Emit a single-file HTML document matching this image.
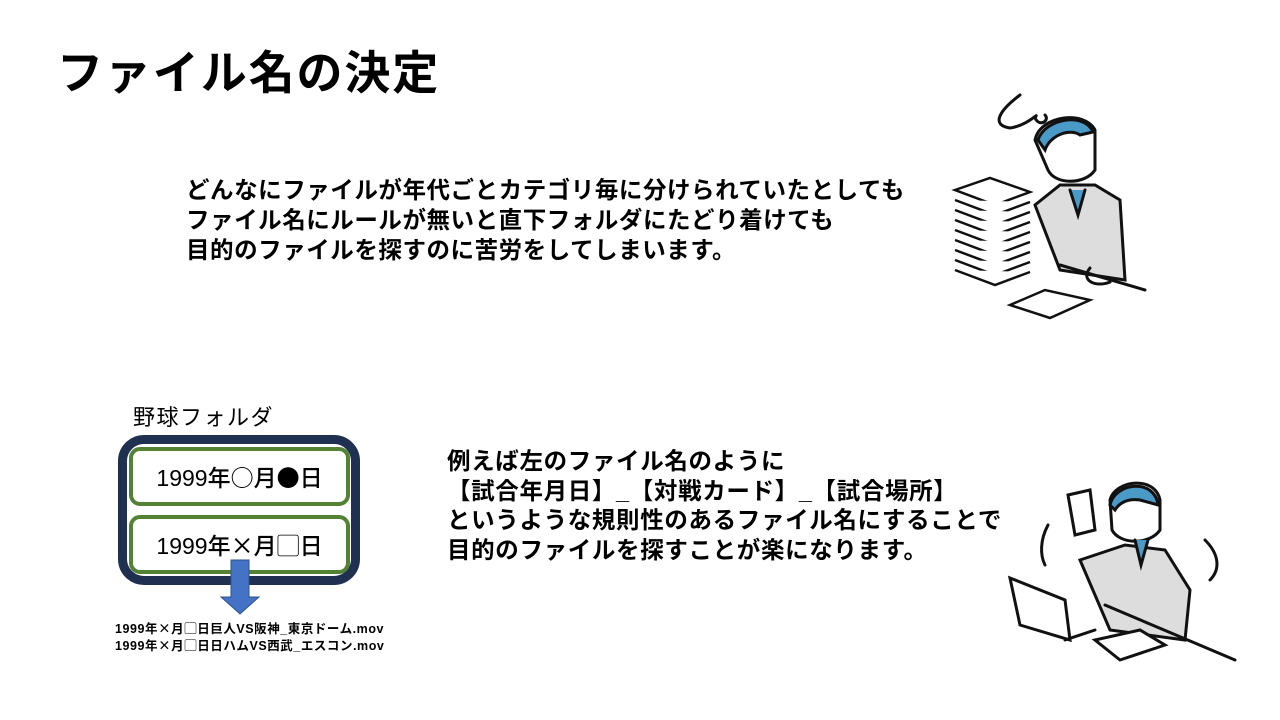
<!DOCTYPE html>
<html><head><meta charset="utf-8"><style>
html,body{margin:0;padding:0;background:#fff}
body{width:1280px;height:720px;position:relative;overflow:hidden;font-family:"Liberation Sans","Noto Sans CJK JP",sans-serif;color:#000}
.t{position:absolute;white-space:nowrap}
.j{font-family:"Noto Sans CJK JP",sans-serif}
.title{left:57px;top:37px;font-size:46px;font-weight:bold;letter-spacing:1.9px}
.p1{left:186px;top:175px;font-size:23.5px;font-weight:bold;line-height:30px;letter-spacing:0.55px}
.p2{left:447px;top:447px;font-size:23.5px;font-weight:bold;line-height:29.5px;letter-spacing:0.65px}
.lab{left:133px;top:400px;font-size:22px;letter-spacing:1.5px}
.outer{position:absolute;left:118px;top:435px;width:224px;height:132px;border:9px solid #1f3050;border-radius:26px}
.in{position:absolute;left:129px;width:213px;height:51px;border:4px solid #548235;border-radius:11px;font-size:23px;text-align:center;line-height:51px;font-weight:500}
.small{left:115px;top:620px;font-size:12.5px;font-weight:bold;line-height:16px;letter-spacing:0.55px}
</style></head><body>
<div class="t title">ファイル名の決定</div>
<div class="t p1">どんなにファイルが年代ごとカテゴリ毎に分けられていたとしても<br>ファイル名にルールが無いと直下フォルダにたどり着けても<br>目的のファイルを探すのに苦労をしてしまいます。</div>
<div class="t lab">野球フォルダ</div>
<div class="outer"></div>
<div class="in" style="top:447px">1999年<span class="j">○</span>月<span class="j">●</span>日</div>
<div class="in" style="top:515px">1999年<span class="j">×</span>月<span class="j">▢</span>日</div>
<svg style="position:absolute;left:0;top:0" width="1280" height="720">
<polygon points="231,560 249,560 249,597 259,597 240,614 221,597 231,597" fill="#4472c4" stroke="#2f528f" stroke-width="1"/>
<g stroke="#111" stroke-width="3" fill="none" stroke-linecap="round">
<path d="M1020,95 C1000,110 990,125 1010,128 C1030,125 1040,110 1035,118 C1040,128 1050,120 1045,115"/>
<path d="M1035,140 C1040,115 1085,110 1095,130 L1095,170 C1085,185 1055,185 1048,170 Z" fill="#fff"/>
<path d="M1038,140 C1045,118 1085,112 1093,132 L1080,135 C1070,128 1050,135 1045,150 Z" fill="#4a9ac8"/>
<path d="M1035,205 L1060,185 L1095,185 L1120,200 L1125,280 L1060,270 Z" fill="#ddd"/>
<path d="M1070,190 L1078,215 L1085,190" fill="#4a9ac8"/>
<path d="M1060,265 L1145,290"/>
<path d="M1090,268 C1080,280 1095,288 1110,282"/>
</g>
<g stroke="#111" stroke-width="2.5" fill="#fff">
<path d="M955,190 L990,178 L1030,192 L995,205 Z"/>
<path d="M955,200 L995,215 L1030,202"/><path d="M955,210 L995,225 L1030,212"/>
<path d="M955,220 L995,235 L1030,222"/><path d="M955,230 L995,245 L1030,232"/>
<path d="M955,240 L995,255 L1030,242"/><path d="M955,250 L995,265 L1030,252"/>
<path d="M955,260 L995,275 L1030,262"/><path d="M955,270 L995,285 L1030,272"/>
<path d="M1010,305 L1045,290 L1090,300 L1050,318 Z"/>
</g>
<g stroke="#111" stroke-width="3" fill="none" stroke-linecap="round">
<path d="M1110,500 C1115,480 1155,475 1160,500 L1160,530 C1150,545 1120,545 1112,530 Z" fill="#fff"/>
<path d="M1110,505 C1115,482 1155,478 1158,505 L1140,500 C1125,498 1118,505 1115,510 Z" fill="#4a9ac8"/>
<path d="M1080,560 L1125,545 L1165,550 L1190,590 L1185,640 L1110,630 Z" fill="#ddd"/>
<path d="M1068,495 L1090,490 L1095,530 L1075,535 Z" fill="#fff"/>
<path d="M1010,578 L1065,600 L1070,640 L1020,625 Z" fill="#fff"/>
<path d="M1065,640 L1095,630"/>
<path d="M1105,605 L1235,660"/>
<path d="M1095,640 L1140,630 L1165,645 L1120,660 Z" fill="#fff"/>
<path d="M1048,525 C1040,540 1040,555 1045,565"/>
<path d="M1205,540 C1220,555 1220,570 1210,580"/>
<path d="M1135,540 L1141,565 L1148,540" fill="#4a9ac8"/>
</g>
</svg>
<div class="t small">1999年<span class="j">×</span>月<span class="j">▢</span>日巨人VS阪神_東京ドーム.mov<br>1999年<span class="j">×</span>月<span class="j">▢</span>日日ハムVS西武_エスコン.mov</div>
<div class="t p2">例えば左のファイル名のように<br>【試合年月日】_【対戦カード】_【試合場所】<br>というような規則性のあるファイル名にすることで<br>目的のファイルを探すことが楽になります。</div>
</body></html>
